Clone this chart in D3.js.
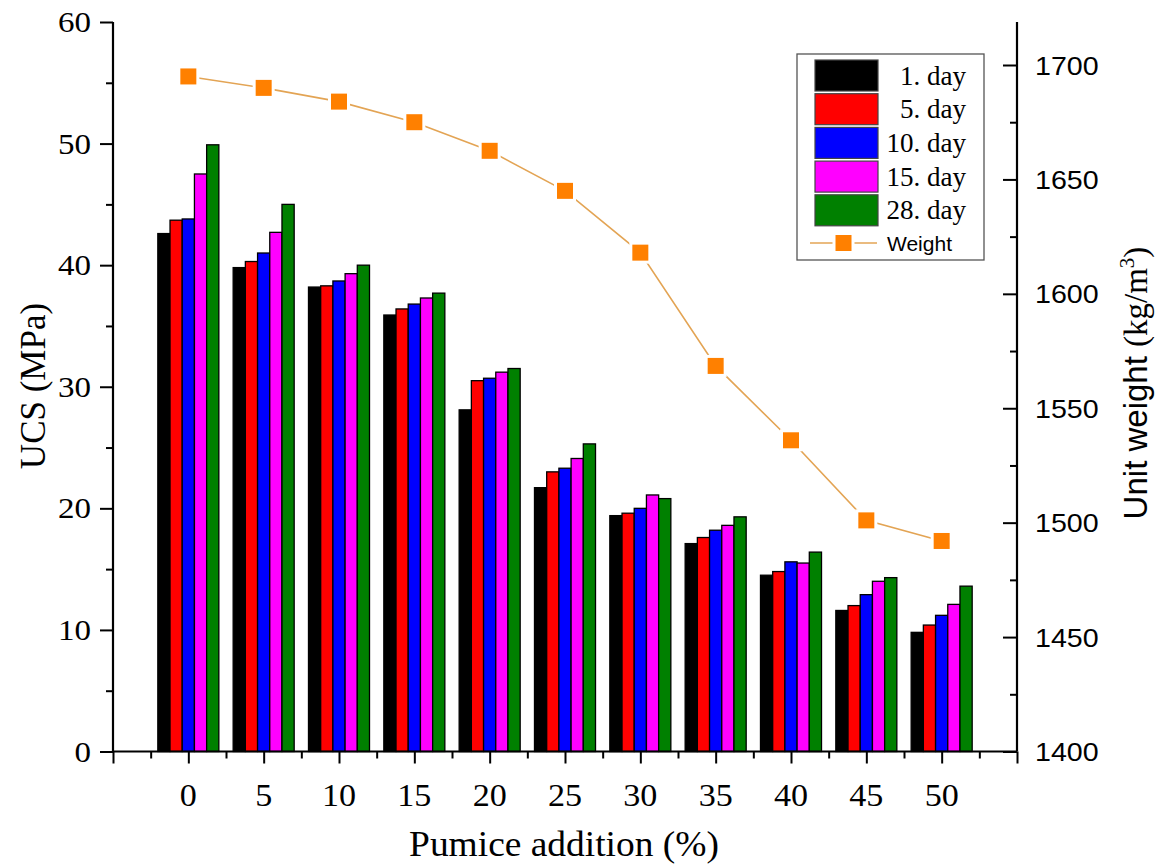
<!DOCTYPE html>
<html>
<head>
<meta charset="utf-8">
<script src="https://cdn.jsdelivr.net/npm/d3@7"></script>
<style>
  body { margin: 0; background: #fff; }
  svg { display: block; }
  .serif { font-family: "Liberation Serif", "Times New Roman", serif; }
  .sans { font-family: "Liberation Sans", Arial, sans-serif; }
</style>
</head>
<body>
<svg width="1158" height="864"></svg>
<script>
// data
const pumice = [0, 5, 10, 15, 20, 25, 30, 35, 40, 45, 50];
const seriesNames = ["1. day", "5. day", "10. day", "15. day", "28. day"];
const seriesColors = ["#000000", "#ff0000", "#0000ff", "#ff00ff", "#008000"];
const day1 = [42.6, 39.8, 38.2, 35.9, 28.1, 21.7, 19.4, 17.1, 14.5, 11.6, 9.8];
const day5 = [43.7, 40.3, 38.3, 36.4, 30.5, 23.0, 19.6, 17.6, 14.8, 12.0, 10.4];
const day10 = [43.8, 41.0, 38.7, 36.8, 30.7, 23.3, 20.0, 18.2, 15.6, 12.9, 11.2];
const day15 = [47.5, 42.7, 39.3, 37.3, 31.2, 24.1, 21.1, 18.6, 15.5, 14.0, 12.1];
const day28 = [49.9, 45.0, 40.0, 37.7, 31.5, 25.3, 20.8, 19.3, 16.4, 14.3, 13.6];
const weight = [1695, 1690, 1684, 1675, 1662.5, 1645, 1618, 1568.5, 1536, 1501, 1492];
const ucsTicks = [0, 10, 20, 30, 40, 50, 60];
const weightTicks = [1400, 1450, 1500, 1550, 1600, 1650, 1700];

const allSeries = [day1, day5, day10, day15, day28];

const svg = d3.select("svg");
const area = { left: 113, right: 1017, top: 22, bottom: 751.5 };
const stretch = 1.1;   // the source picture is a bit wide

const x = d3.scaleLinear().domain([-5, 55]).range([area.left, area.right]);
const yL = d3.scaleLinear().domain([0, 60]).range([area.bottom, area.top]);
const yR = d3.scaleLinear().domain([1400, 1700]).range([area.bottom, 65]);

// bars inside each group
const groupW = x(4.05) - x(0);
const inner = d3.scaleBand().domain(seriesNames).range([-groupW / 2, groupW / 2]).padding(0);

let bars = [];
pumice.forEach((p, i) => {
    seriesNames.forEach((s, j) => {
        bars.push({ p: p, s: s, v: allSeries[j][i], c: seriesColors[j] });
    });
});

svg.append("g").selectAll("rect")
    .data(bars)
    .enter()
    .append("rect")
    .attr("x", d => x(d.p) + inner(d.s))
    .attr("y", d => yL(d.v))
    .attr("width", inner.bandwidth())
    .attr("height", d => yL(0) - yL(d.v))
    .style("fill", d => d.c)
    .style("stroke", "#000")
    .style("stroke-width", 1.3);

// weight line
const pts = pumice.map((p, i) => ({ p: p, w: weight[i] }));
const line = d3.line().x(d => x(d.p)).y(d => yR(d.w));
svg.append("path")
    .datum(pts)
    .attr("d", line)
    .style("fill", "none")
    .style("stroke", "#e3a454")
    .style("stroke-width", 1.6);

const ms = 16;
svg.append("g").selectAll("rect")
    .data(pts)
    .enter()
    .append("rect")
    .attr("x", d => x(d.p) - ms / 2 - 1.5)
    .attr("y", d => yR(d.w) - ms / 2 - 1.5)
    .attr("width", ms + 3)
    .attr("height", ms + 3)
    .style("fill", "#ff8000")
    .style("stroke", "#fff")
    .style("stroke-width", 3);

// axes
const axisX = d3.axisBottom(x)
    .tickValues(d3.range(-5, 55.1, 2.5))
    .tickSize(0)
    .tickFormat("");
const gx = svg.append("g").attr("transform", `translate(0,${area.bottom})`).call(axisX);
gx.select(".domain").remove();
gx.selectAll(".tick line")
    .attr("y2", d => (d % 5 === 0 ? 12 : 7))
    .style("stroke", "#000")
    .style("stroke-width", 2);

svg.append("g").selectAll("text")
    .data(pumice)
    .enter()
    .append("text")
    .attr("class", "serif")
    .attr("transform", d => `translate(${x(d)},806) scale(${stretch},1)`)
    .attr("text-anchor", "middle")
    .style("font-size", "31px")
    .text(d => d);

const axisL = d3.axisLeft(yL).tickValues(d3.range(0, 60.1, 5)).tickSize(0).tickFormat("");
const gl = svg.append("g").attr("transform", `translate(${area.left},0)`).call(axisL);
gl.select(".domain").remove();
gl.selectAll(".tick line")
    .attr("x2", d => (d % 10 === 0 ? -13 : -7))
    .style("stroke", "#000")
    .style("stroke-width", 2);

svg.append("g").selectAll("text")
    .data(ucsTicks)
    .enter()
    .append("text")
    .attr("class", "serif")
    .attr("transform", d => `translate(91,${yL(d) + 10}) scale(${stretch},1)`)
    .attr("text-anchor", "end")
    .style("font-size", "30px")
    .text(d => d);

const axisR = d3.axisRight(yR).tickValues(d3.range(1400, 1700.1, 25)).tickSize(0).tickFormat("");
const gr = svg.append("g").attr("transform", `translate(${area.right},0)`).call(axisR);
gr.select(".domain").remove();
gr.selectAll(".tick line")
    .attr("x2", d => (d % 50 === 0 ? -14 : -7))
    .style("stroke", "#000")
    .style("stroke-width", 2);

svg.append("g").selectAll("text")
    .data(weightTicks)
    .enter()
    .append("text")
    .attr("class", "sans")
    .attr("transform", d => `translate(1035,${yR(d) + 9.5}) scale(${stretch},1)`)
    .style("font-size", "26px")
    .text(d => d);

// axis lines
const axisLines = [
    [area.left, area.bottom, area.right, area.bottom],
    [area.left, area.top, area.left, area.bottom],
    [area.right, area.top, area.right, area.bottom]
];
svg.append("g").selectAll("line")
    .data(axisLines)
    .enter()
    .append("line")
    .attr("x1", d => d[0]).attr("y1", d => d[1])
    .attr("x2", d => d[2]).attr("y2", d => d[3])
    .style("stroke", "#000")
    .style("stroke-width", 2.2);

// titles
svg.append("text")
    .attr("class", "serif")
    .attr("transform", `translate(564,856) scale(1.07,1)`)
    .attr("text-anchor", "middle")
    .style("font-size", "35px")
    .text("Pumice addition (%)");

svg.append("text")
    .attr("class", "serif")
    .attr("transform", "translate(45,386) rotate(-90)")
    .attr("text-anchor", "middle")
    .style("font-size", "35px")
    .text("UCS (MPa)");

const rt = svg.append("text")
    .attr("transform", "translate(1147,383) rotate(-90)")
    .attr("text-anchor", "middle")
    .style("font-size", "33px");
rt.append("tspan").attr("class", "sans").text("Unit weight ");
rt.append("tspan").attr("class", "serif").text("(kg/m");
rt.append("tspan").attr("class", "serif").attr("dy", -13).style("font-size", "21px").text("3");
rt.append("tspan").attr("class", "serif").attr("dy", 13).text(")");

// legend
const lg = svg.append("g");
lg.append("rect")
    .attr("x", 797).attr("y", 54)
    .attr("width", 187).attr("height", 206)
    .style("fill", "#fff")
    .style("stroke", "#555")
    .style("stroke-width", 1.3);

const rowY = d3.scaleLinear().domain([0, 1]).range([75.5, 109.2]);
seriesNames.forEach((s, j) => {
    lg.append("rect")
        .attr("x", 815).attr("y", rowY(j) - 15.5)
        .attr("width", 63).attr("height", 31)
        .style("fill", seriesColors[j])
        .style("stroke", "#444")
        .style("stroke-width", 1.2);
    lg.append("text")
        .attr("class", "serif")
        .attr("x", 966).attr("y", rowY(j) + 9)
        .attr("text-anchor", "end")
        .style("font-size", "27px")
        .text(s);
});
lg.append("line")
    .attr("x1", 810).attr("x2", 877).attr("y1", 243).attr("y2", 243)
    .style("stroke", "#e3a454").style("stroke-width", 1.6);
lg.append("rect")
    .attr("x", 843.5 - 9.5).attr("y", 243 - 9.5)
    .attr("width", 19).attr("height", 19)
    .style("fill", "#ff8000").style("stroke", "#fff").style("stroke-width", 3);
lg.append("text")
    .attr("class", "sans")
    .attr("x", 887).attr("y", 250.5)
    .style("font-size", "21px")
    .text("Weight");
</script>
</body>
</html>
